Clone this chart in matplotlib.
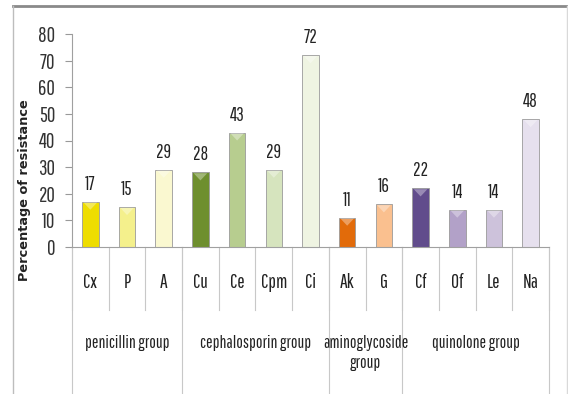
import matplotlib
matplotlib.use("Agg")
import matplotlib.pyplot as plt
from matplotlib.patches import Polygon

categories = ["Cx", "P", "A", "Cu", "Ce", "Cpm", "Ci", "Ak", "G", "Cf", "Of", "Le", "Na"]
values = [17, 15, 29, 28, 43, 29, 72, 11, 16, 22, 14, 14, 48]
colors = ["#EEDD00", "#F4F08C", "#FAF8D0", "#6E8F2E", "#B7CD8F", "#D6E4BE", "#EFF4E2",
          "#E26B0A", "#FAC08F", "#614C8C", "#B2A1C8", "#CDC2DB", "#E6E0EE"]
groups = ["penicillin group", "cephalosporin group", "aminoglycoside\ngroup", "quinolone group"]
group_sizes = [3, 4, 2, 4]
yticks = [0, 10, 20, 30, 40, 50, 60, 70, 80]
ylabel = "Percentage of resistance"

NF = ["Pathway Gothic One", "Sofia Sans Extra Condensed", "DejaVu Sans"]

W, H = 568, 394
fig = plt.figure(figsize=(W / 100, H / 100), dpi=100)

# outer frame
fig.add_artist(plt.Line2D([13 / W, 1.0], [1 - 6 / H, 1 - 6 / H], color="#8a8a8a", lw=2.0))
fig.add_artist(plt.Line2D([13 / W, 13 / W], [0, 1 - 6 / H], color="#bdbdbd", lw=1.0))
fig.add_artist(plt.Line2D([567 / W, 567 / W], [0, 1 - 6 / H], color="#d9d9d9", lw=1.0))

ax = fig.add_axes([72 / W, 1 - 247 / H, (549 - 72) / W, (247 - 34) / H])
n = len(categories)
x = list(range(n))
bw = 0.45
ax.bar(x, values, width=bw, color=colors, edgecolor="#9a9a9a", linewidth=0.6, zorder=2)

# subtle bevel highlight
for xi, v, c in zip(x, values, colors):
    tri = Polygon([[xi - bw / 2 + 0.04, v - 0.3], [xi + bw / 2 - 0.04, v - 0.3], [xi, v - 3.0]],
                  closed=True, facecolor="white", alpha=0.35, edgecolor="none", zorder=3)
    ax.add_patch(tri)
    ax.text(xi, v + 3.0, str(v), ha="center", va="bottom", fontsize=13.5, family=NF, color="#222222")

ax.set_xlim(-0.5, n - 0.5)
ax.set_ylim(0, 80)
ax.set_yticks(yticks)
ax.set_yticklabels([str(t) for t in yticks], fontsize=15, family=NF, color="#333333")
ax.tick_params(axis="y", length=5, color="#999999", pad=7)
ax.set_xticks([])
for s in ["top", "right"]:
    ax.spines[s].set_visible(False)
ax.spines["left"].set_color("#a0a0a0")
ax.spines["bottom"].set_color("#a0a0a0")

ah = 247 - 34
tr = ax.get_xaxis_transform()
# category separators
for b in range(n + 1):
    ax.plot([b - 0.5, b - 0.5], [0, -(310 - 247) / ah], transform=tr, color="#c8c8c8", lw=0.8, clip_on=False)
for xi, c in zip(x, categories):
    ax.text(xi, -(283 - 247) / ah, c, transform=tr, ha="center", va="center", fontsize=14, family=NF, color="#222222")
# group separators and labels
start = 0
bounds = [0]
for gs in group_sizes:
    start += gs
    bounds.append(start)
for b in bounds:
    ax.plot([b - 0.5, b - 0.5], [0, -(400 - 247) / ah], transform=tr, color="#c8c8c8", lw=0.8, clip_on=False)
for g, a, b in zip(groups, bounds[:-1], bounds[1:]):
    ax.text((a + b - 1) / 2, -(335 - 247) / ah, g, transform=tr, ha="center", va="top",
            fontsize=12.5, family=NF, color="#222222", linespacing=1.3)

fig.text(25 / W, 1 - 190 / H, ylabel, rotation=90, ha="center", va="center",
         fontsize=9.3, fontweight="bold", family="DejaVu Sans", color="#222222")

fig.savefig("out.png", dpi=100)
